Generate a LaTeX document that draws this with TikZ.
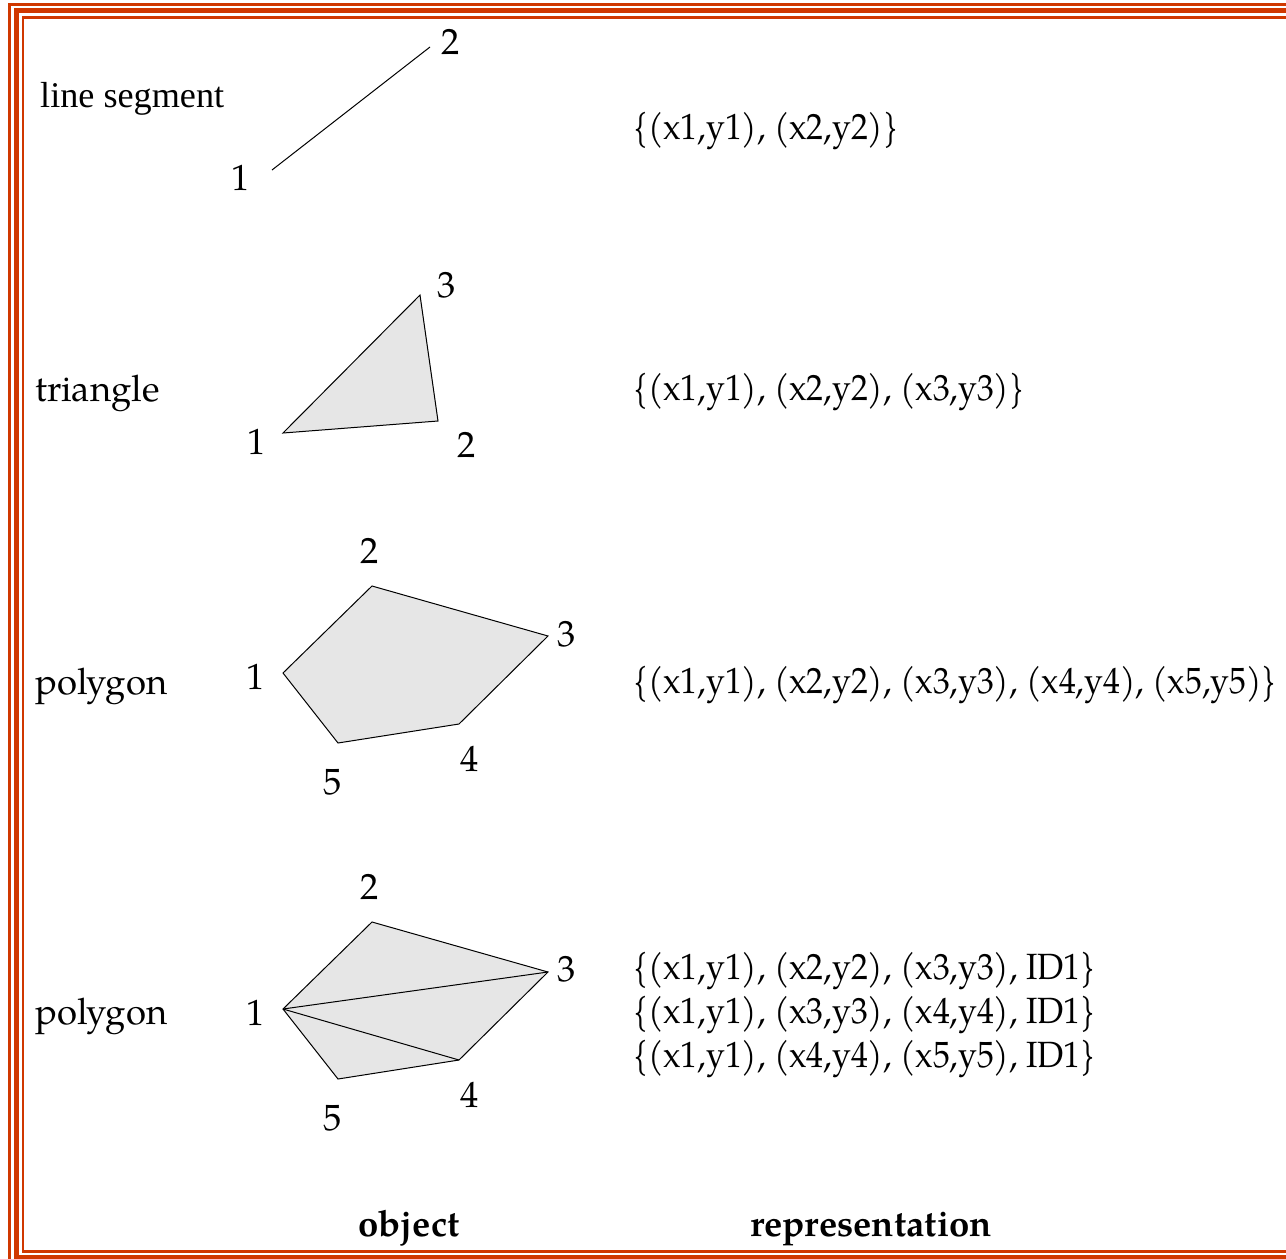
\documentclass[tikz,border=0pt]{standalone}
\usepackage{fontspec}
\newfontfamily\timesfont{Liberation Serif}
\IfFontExistsTF{TeX Gyre Pagella}
  {\newfontfamily\palfam{TeX Gyre Pagella}\newfontfamily\repfam{TeX Gyre Pagella}[FakeStretch=0.925]\newcommand\palsize{36.5}}
  {\newfontfamily\palfam{Liberation Serif}\newfontfamily\repfam{Liberation Serif}\newcommand\palsize{37}}
\newcommand\palfont{\palfam\fontsize{\palsize}{43.5}\selectfont}
\newcommand\repfont{\repfam\fontsize{\palsize}{43.5}\selectfont}
\newcommand\timesbig{\timesfont\fontsize{36.2}{43.5}\selectfont}
\definecolor{framered}{RGB}{208,56,0}
\definecolor{shapefill}{RGB}{230,230,230}
\begin{document}
\begin{tikzpicture}[x=1pt,y=-1pt,
  lbl/.style={font=\palfont, inner sep=0pt, anchor=base west},
  rep/.style={font=\repfont, inner sep=0pt, anchor=base west},
  num/.style={font=\palfont, inner sep=0pt},
  polyshape/.style={draw=black, line width=1pt, fill=shapefill, line join=miter},
  diag/.style={draw=black, line width=1pt},
  framethin/.style={draw=framered, line width=3.1pt},
  framethick/.style={draw=framered, line width=4.8pt},
  frameinner/.style={draw=framered, line width=2.5pt}]
\path[use as bounding box] (0,0) rectangle (1286,1259);
\clip (0,0) rectangle (1286,1259);
% frame
\draw[framethin] (9.7,4.5) rectangle (1300,1275);
\draw[framethick] (16.5,10.7) rectangle (1300,1257.6);
\draw[frameinner] (22.8,17.7) rectangle (1300,1251.4);

% row 1: line segment
\node[lbl, font=\timesbig] (tl) at (40,107) {line segment};
\coordinate (s1) at (272,170);
\coordinate (s2) at (430,47);
\draw[diag] (s1) -- (s2);
\node[num] (s1l) at (241,178) {1};
\node[num] (s2l) at (451,42) {2};
\node[rep] (r1) at (633,139) {\{(x1,y1), (x2,y2)\}};

% row 2: triangle
\node[lbl] (tt) at (35,401) {triangle};
\coordinate (t1) at (283,433);
\coordinate (t2) at (438,421);
\coordinate (t3) at (420,295);
\filldraw[polyshape] (t1) -- (t2) -- (t3) -- cycle;
\node[num] (t1l) at (257,442) {1};
\node[num] (t2l) at (467,445) {2};
\node[num] (t3l) at (447,285) {3};
\node[rep] (r2) at (633,400) {\{(x1,y1), (x2,y2), (x3,y3)\}};

% row 3: polygon
\node[lbl] (tp) at (35,694) {polygon};
\coordinate (p1) at (283,673);
\coordinate (p2) at (372,586);
\coordinate (p3) at (548,636);
\coordinate (p4) at (459,724);
\coordinate (p5) at (338,743);
\filldraw[polyshape] (p1) -- (p2) -- (p3) -- (p4) -- (p5) -- cycle;
\node[num] (p1l) at (256,677) {1};
\node[num] (p2l) at (370,551) {2};
\node[num] (p3l) at (567,634) {3};
\node[num] (p4l) at (470,759) {4};
\node[num] (p5l) at (333,782) {5};
\node[rep] (r3) at (633,693) {\{(x1,y1), (x2,y2), (x3,y3), (x4,y4), (x5,y5)\}};

% row 4: triangulated polygon
\node[lbl] (tq) at (35,1024) {polygon};
\coordinate (q1) at (283,1009);
\coordinate (q2) at (372,922);
\coordinate (q3) at (548,972);
\coordinate (q4) at (459,1060);
\coordinate (q5) at (338,1079);
\filldraw[polyshape] (q1) -- (q2) -- (q3) -- (q4) -- (q5) -- cycle;
\draw[diag] (q1) -- (q3);
\draw[diag] (q1) -- (q4);
\node[num] (q1l) at (256,1013) {1};
\node[num] (q2l) at (370,887) {2};
\node[num] (q3l) at (567,969) {3};
\node[num] (q4l) at (470,1095) {4};
\node[num] (q5l) at (333,1118) {5};
\node[rep] (r4a) at (633,979) {\{(x1,y1), (x2,y2), (x3,y3), ID1\}};
\node[rep] (r4b) at (633,1023) {\{(x1,y1), (x3,y3), (x4,y4), ID1\}};
\node[rep] (r4c) at (633,1067) {\{(x1,y1), (x4,y4), (x5,y5), ID1\}};

% column headings
\node[lbl, font=\palfont\bfseries] (hobj) at (358,1236) {object};
\node[lbl, font=\palfont\bfseries] (hrep) at (750,1236) {representation};
\end{tikzpicture}
\end{document}
